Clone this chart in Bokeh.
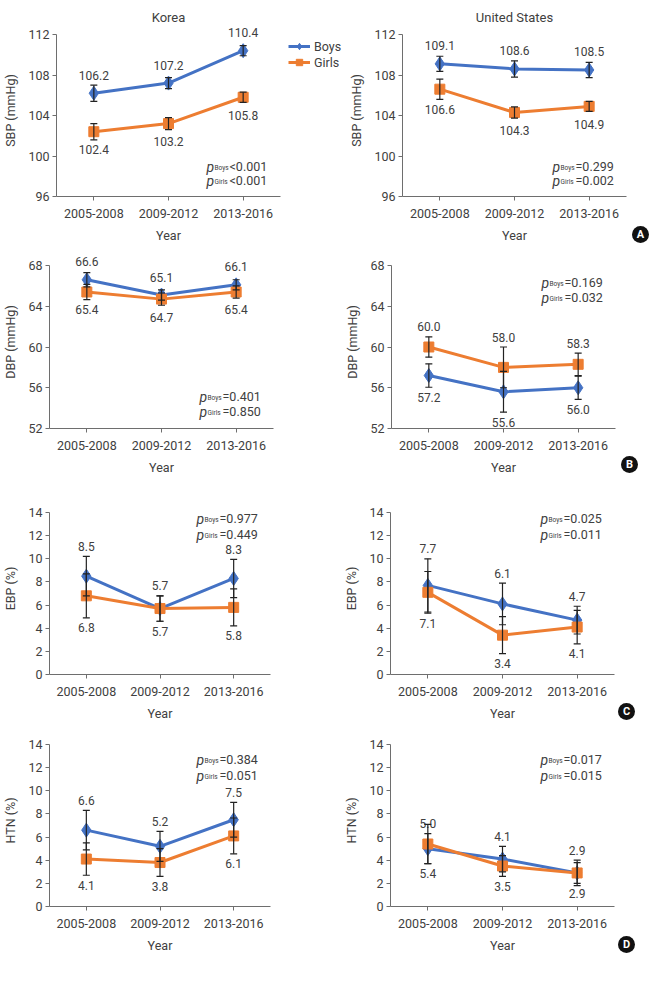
from bokeh.plotting import figure
from bokeh.models import (Range1d, FactorRange, Label, Legend, LegendItem,
                          ColumnDataSource, Whisker, TeeHead, FixedTicker, Div)
from bokeh.layouts import row, column
from bokeh.embed import file_html
from bokeh.resources import INLINE
from bokeh.core.properties import value

years = ["2005-2008", "2009-2012", "2013-2016"]

# ---- Panel A: SBP (mmHg)
sbp_ticks = [96, 100, 104, 108, 112]
kr_sbp_boys = [106.2, 107.2, 110.4]
kr_sbp_boys_err = [0.8, 0.55, 0.5]
kr_sbp_girls = [102.4, 103.2, 105.8]
kr_sbp_girls_err = [0.8, 0.6, 0.5]
us_sbp_boys = [109.1, 108.6, 108.5]
us_sbp_boys_err = [0.75, 0.8, 0.75]
us_sbp_girls = [106.6, 104.3, 104.9]
us_sbp_girls_err = [1.0, 0.55, 0.5]

# ---- Panel B: DBP (mmHg)
dbp_ticks = [52, 56, 60, 64, 68]
kr_dbp_boys = [66.6, 65.1, 66.1]
kr_dbp_boys_err = [0.7, 0.5, 0.5]
kr_dbp_girls = [65.4, 64.7, 65.4]
kr_dbp_girls_err = [0.75, 0.6, 0.6]
us_dbp_boys = [57.2, 55.6, 56.0]
us_dbp_boys_err = [1.15, 2.0, 1.15]
us_dbp_girls = [60.0, 58.0, 58.3]
us_dbp_girls_err = [1.0, 2.0, 1.1]

# ---- Panel C: EBP (%)
pct_ticks = [0, 2, 4, 6, 8, 10, 12, 14]
kr_ebp_boys = [8.5, 5.7, 8.3]
kr_ebp_boys_err = [1.7, 1.1, 1.65]
kr_ebp_girls = [6.8, 5.7, 5.8]
kr_ebp_girls_err = [1.9, 1.1, 1.6]
us_ebp_boys = [7.7, 6.1, 4.7]
us_ebp_boys_err = [2.3, 1.8, 1.2]
us_ebp_girls = [7.1, 3.4, 4.1]
us_ebp_girls_err = [1.8, 1.6, 1.45]

# ---- Panel D: HTN (%)
kr_htn_boys = [6.6, 5.2, 7.5]
kr_htn_boys_err = [1.7, 1.3, 1.5]
kr_htn_girls = [4.1, 3.8, 6.1]
kr_htn_girls_err = [1.4, 1.2, 1.55]
us_htn_boys = [5.0, 4.1, 2.9]
us_htn_boys_err = [1.3, 1.1, 1.1]
us_htn_girls = [5.4, 3.5, 2.9]
us_htn_girls_err = [1.7, 0.9, 0.9]

# ---- p values for trend
kr_sbp_p = ["<0.001", "<0.001"]
us_sbp_p = ["=0.299", "=0.002"]
kr_dbp_p = ["=0.401", "=0.850"]
us_dbp_p = ["=0.169", "=0.032"]
kr_ebp_p = ["=0.977", "=0.449"]
us_ebp_p = ["=0.025", "=0.011"]
kr_htn_p = ["=0.384", "=0.051"]
us_htn_p = ["=0.017", "=0.015"]

series_names = ["Boys", "Girls"]
panel_letters = ["A", "B", "C", "D"]

FONT = "Roboto"
TXT = "#404040"
AX = "#6e6e6e"
BLUE = "#4472C4"
ORANGE = "#ED7D31"
EXT = 10  # extra px of frame above the top tick so labels are not clipped


def make_panel(ylabel, yrange, ticks, boys, boys_err, girls, girls_err, pvals,
               boys_above, p_tops, geom, title=None):
    fw, fh, bl, br, bt, bb = geom
    ppu = fh / (yrange[1] - yrange[0])
    p = figure(x_range=FactorRange(*years),
               y_range=Range1d(yrange[0], yrange[1] + EXT / ppu),
               frame_width=fw, frame_height=fh + EXT,
               min_border_left=bl, min_border_right=br,
               min_border_top=bt - EXT, min_border_bottom=bb,
               title=title, output_backend="svg", toolbar_location=None,
               outline_line_color=None, background_fill_color="white",
               border_fill_color="white")
    if title is not None:
        p.title.align = "center"
        p.title.text_font = FONT
        p.title.text_font_size = "13px"
        p.title.text_font_style = "normal"
        p.title.text_color = TXT
        p.title.standoff = 0
    p.xgrid.visible = False
    p.ygrid.visible = False
    p.yaxis.ticker = FixedTicker(ticks=ticks)
    p.yaxis.bounds = (yrange[0], yrange[1])
    for ax in (p.xaxis[0], p.yaxis[0]):
        ax.axis_line_color = AX
        ax.axis_line_width = 1
        ax.major_tick_line_color = AX
        ax.major_tick_out = 4
        ax.major_tick_in = 0
        ax.minor_tick_line_color = None
        ax.major_label_text_font = FONT
        ax.major_label_text_font_size = "12.5px"
        ax.major_label_text_color = TXT
        ax.axis_label_text_font = FONT
        ax.axis_label_text_font_size = "12.5px"
        ax.axis_label_text_font_style = "normal"
        ax.axis_label_text_color = TXT
    p.xaxis.axis_label = "Year"
    p.xaxis.major_label_standoff = 8
    p.xaxis.axis_label_standoff = 7
    p.yaxis.axis_label = ylabel
    p.yaxis.major_label_standoff = 3
    p.yaxis.axis_label_standoff = 7

    for vals, errs, color, marker, size, above in (
            (boys, boys_err, BLUE, "diamond", 14, boys_above),
            (girls, girls_err, ORANGE, "square", 10, not boys_above)):
        p.line(years, vals, line_color=color, line_width=3)
        p.scatter(years, vals, marker=marker, size=size,
                  fill_color=color, line_color=color)
        src = ColumnDataSource(dict(x=years,
                                    lower=[v - e for v, e in zip(vals, errs)],
                                    upper=[v + e for v, e in zip(vals, errs)]))
        w = Whisker(base="x", lower="lower", upper="upper", source=src,
                    line_color="#222222", line_width=1.2, level="overlay",
                    upper_head=TeeHead(size=7, line_color="#222222", line_width=1.2),
                    lower_head=TeeHead(size=7, line_color="#222222", line_width=1.2))
        p.add_layout(w)
        offs = [max(18, e * ppu + 10) * (-1 if above else 1) for e in errs]
        p.text(x=years, y=vals, text=[f"{v:.1f}" for v in vals], y_offset=offs,
               text_align="center", text_baseline="middle",
               text_font=value(FONT), text_font_size="12px", text_color=TXT)

    # p-values for trend
    x0 = fw - 74
    for sub, val, top in zip(series_names, pvals, p_tops):
        yb = fh - top - 4
        p.add_layout(Label(x=x0, y=yb, x_units="screen", y_units="screen", text="p",
                           text_font=FONT, text_font_size="14px", text_font_style="italic",
                           text_color=TXT, text_baseline="alphabetic"))
        p.add_layout(Label(x=x0 + 8, y=yb - 1, x_units="screen", y_units="screen", text=sub,
                           text_font=FONT, text_font_size="6.5px",
                           text_color=TXT, text_baseline="alphabetic"))
        p.add_layout(Label(x=x0 + 23, y=yb, x_units="screen", y_units="screen", text=val,
                           text_font=FONT, text_font_size="12.5px",
                           text_color=TXT, text_baseline="alphabetic"))
    return p


def legend_box(h, vy, boys, girls):
    # narrow plot holding only the legend; its frame is aligned with the row's frames
    f = figure(width=60, height=h, x_range=Range1d(0, 1), y_range=Range1d(0, 1),
               x_axis_location=None, y_axis_location=None, min_border=0,
               output_backend="svg", toolbar_location=None, outline_line_color=None,
               title=None)
    f.xgrid.visible = False
    f.ygrid.visible = False
    items = []
    # series drawn far outside this plot's visible range: only their legend swatches show
    xs = [10, 11, 12]
    for name, vals, color, marker, size in ((series_names[0], boys, BLUE, "diamond", 14),
                                            (series_names[1], girls, ORANGE, "square", 10)):
        ln = f.line(x=xs, y=vals, line_color=color, line_width=3)
        mk = f.scatter(x=xs, y=vals, marker=marker, size=size,
                       fill_color=color, line_color=color)
        items.append(LegendItem(label=name, renderers=[ln, mk]))
    lg = Legend(items=items, location=(2, vy), border_line_color=None,
                background_fill_alpha=0, padding=0, margin=0, spacing=0,
                glyph_width=22, glyph_height=16, label_height=16,
                label_standoff=4, label_text_font=FONT,
                label_text_font_size="12.5px", label_text_color=TXT)
    f.add_layout(lg)
    return f


def badge_box(letter, h, cy):
    return Div(text=(f'<div style="position:relative;top:{cy - 8.5}px;left:0px;'
                     'width:17px;height:17px;border-radius:50%;background:#111;'
                     'color:#fff;font-family:Roboto,sans-serif;font-weight:bold;'
                     f'font-size:11px;line-height:17px;text-align:center;">{letter}</div>'),
               width=35, height=h, margin=0)


# geometry: frame_w, frame_h, border_left, border_right, border_top, border_bottom
gA_l = (224, 162, 45, 6, 34, 51)
gA_r = (224, 162, 52, 6, 34, 51)
gB_l = (224, 163, 45, 66, 18, 51)
gB_r = (224, 163, 52, 6, 18, 51)
gC_l = (221, 162, 48, 66, 33, 52)
gC_r = (224, 162, 54, 4, 33, 52)
gD_l = (221, 162, 48, 66, 18, 62)
gD_r = (224, 162, 54, 4, 18, 62)

pA1 = make_panel("SBP (mmHg)", (96, 112), sbp_ticks, kr_sbp_boys, kr_sbp_boys_err,
                 kr_sbp_girls, kr_sbp_girls_err, kr_sbp_p, True, (128, 142), gA_l,
                 title="Korea")
pA2 = make_panel("SBP (mmHg)", (96, 112), sbp_ticks, us_sbp_boys, us_sbp_boys_err,
                 us_sbp_girls, us_sbp_girls_err, us_sbp_p, True, (128, 142), gA_r,
                 title="United States")
pB1 = make_panel("DBP (mmHg)", (52, 68), dbp_ticks, kr_dbp_boys, kr_dbp_boys_err,
                 kr_dbp_girls, kr_dbp_girls_err, kr_dbp_p, True, (127, 142), gB_l)
pB2 = make_panel("DBP (mmHg)", (52, 68), dbp_ticks, us_dbp_boys, us_dbp_boys_err,
                 us_dbp_girls, us_dbp_girls_err, us_dbp_p, False, (13, 28), gB_r)
pC1 = make_panel("EBP (%)", (0, 14), pct_ticks, kr_ebp_boys, kr_ebp_boys_err,
                 kr_ebp_girls, kr_ebp_girls_err, kr_ebp_p, True, (2, 18), gC_l)
pC2 = make_panel("EBP (%)", (0, 14), pct_ticks, us_ebp_boys, us_ebp_boys_err,
                 us_ebp_girls, us_ebp_girls_err, us_ebp_p, True, (2, 18), gC_r)
pD1 = make_panel("HTN (%)", (0, 14), pct_ticks, kr_htn_boys, kr_htn_boys_err,
                 kr_htn_girls, kr_htn_girls_err, kr_htn_p, True, (11, 27), gD_l)
pD2 = make_panel("HTN (%)", (0, 14), pct_ticks, us_htn_boys, us_htn_boys_err,
                 us_htn_girls, us_htn_girls_err, us_htn_p, True, (11, 27), gD_r)

hA = 34 + 162 + 51
hB = 18 + 163 + 51
hC = 33 + 162 + 52
hD = 18 + 162 + 62
legA = legend_box(hA, 162 + EXT - 46, kr_sbp_boys, kr_sbp_girls)
layout = column(row(pA1, legA, pA2, badge_box(panel_letters[0], hA, 34 + 162 + 38)),
                row(pB1, pB2, badge_box(panel_letters[1], hB, 18 + 163 + 36)),
                row(pC1, pC2, badge_box(panel_letters[2], hC, 33 + 162 + 37)),
                row(pD1, pD2, badge_box(panel_letters[3], hD, 18 + 162 + 38)))
open("out.html", "w").write(file_html(layout, INLINE))
